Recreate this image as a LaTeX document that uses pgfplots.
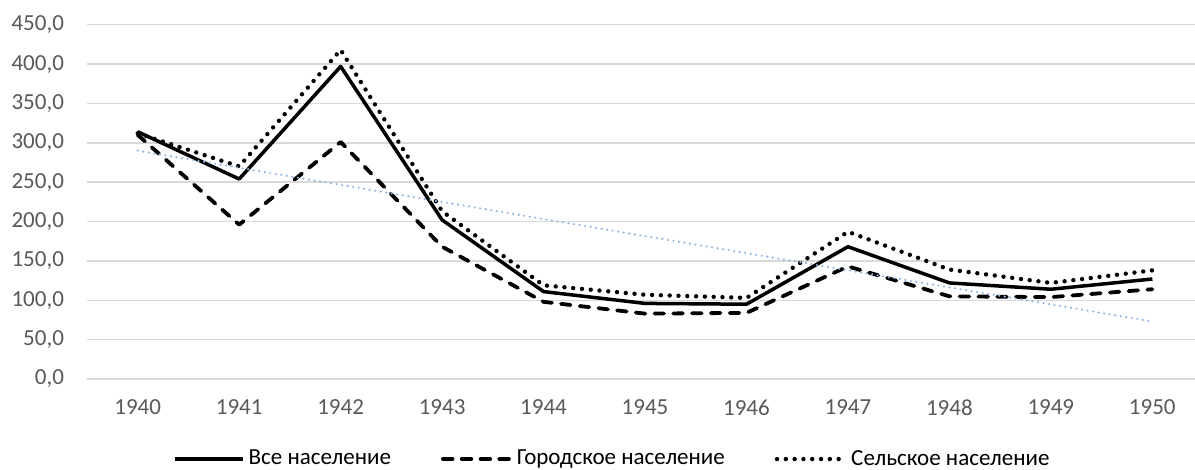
\documentclass[border=0pt]{standalone}
\usepackage{fontspec}
\setmainfont{Carlito}
\usepackage{pgfplots}
\pgfplotsset{compat=1.18}
\definecolor{gridc}{HTML}{D9D9D9}
\definecolor{tickc}{HTML}{595959}
\definecolor{trendc}{HTML}{8FB4E0}
\begin{document}
\begin{tikzpicture}
\useasboundingbox (-43.5pt,-45.5pt) rectangle (554pt,189.5pt);
\begin{axis}[
  at={(0pt,0pt)}, anchor=south west,
  scale only axis, width=554pt, height=177.15pt,
  xmin=1939.5, xmax=1950.42, ymin=0, ymax=450,
  xtick={1940,...,1950}, ytick={0,50,...,450},
  axis line style={draw=none}, tick style={draw=none},
  ymajorgrids, grid style={gridc, line width=0.75pt},
  font=\fontsize{11.5}{13}\selectfont,
  tick label style={text=tickc},
  /pgf/number format/assume math mode=true,
  x tick label style={yshift=-7pt, /pgf/number format/1000 sep={}},
  y tick label style={xshift=-8pt, /pgf/number format/fixed, /pgf/number format/fixed zerofill, /pgf/number format/precision=1, /pgf/number format/use comma, /pgf/number format/1000 sep={}},
  legend columns=3,
  legend style={draw=none, fill=none, at={(0.475,-0.226)}, anchor=center,
    font=\fontsize{11.5}{13}\selectfont,
    nodes={inner sep=2pt},
    /tikz/every even column/.append style={column sep=23pt},
    /tikz/every odd column/.append style={column sep=0pt},
    inner sep=0pt},
  legend image code/.code={\draw[#1] (0pt,0pt) -- (34pt,0pt);},
]
\addplot[black, line width=1.75pt, line join=round] coordinates {
(1940,314) (1941,254) (1942,397) (1943,202) (1944,111) (1945,96) (1946,95) (1947,168) (1948,122) (1949,114) (1950,127)};
\addlegendentry{Все население}
\addplot[black, line width=1.9pt, line cap=round, line join=round, dash pattern=on 4.8pt off 4.6pt] coordinates {
(1940,310) (1941,196) (1942,301) (1943,168) (1944,98) (1945,83) (1946,84) (1947,143) (1948,105) (1949,104) (1950,114)};
\addlegendentry{Городское население}
\addplot[black, line width=2.2pt, line cap=round, dash pattern=on 0pt off 4.4pt] coordinates {
(1940,312) (1941,270) (1942,418) (1943,213) (1944,119) (1945,107) (1946,103) (1947,187) (1948,139) (1949,122) (1950,138)};
\addlegendentry{Сельское население}
\addplot[trendc, line width=1.2pt, line cap=round, dash pattern=on 0pt off 2.8pt, forget plot] coordinates {
(1940,290) (1950,73)};
\end{axis}
\end{tikzpicture}
\end{document}
